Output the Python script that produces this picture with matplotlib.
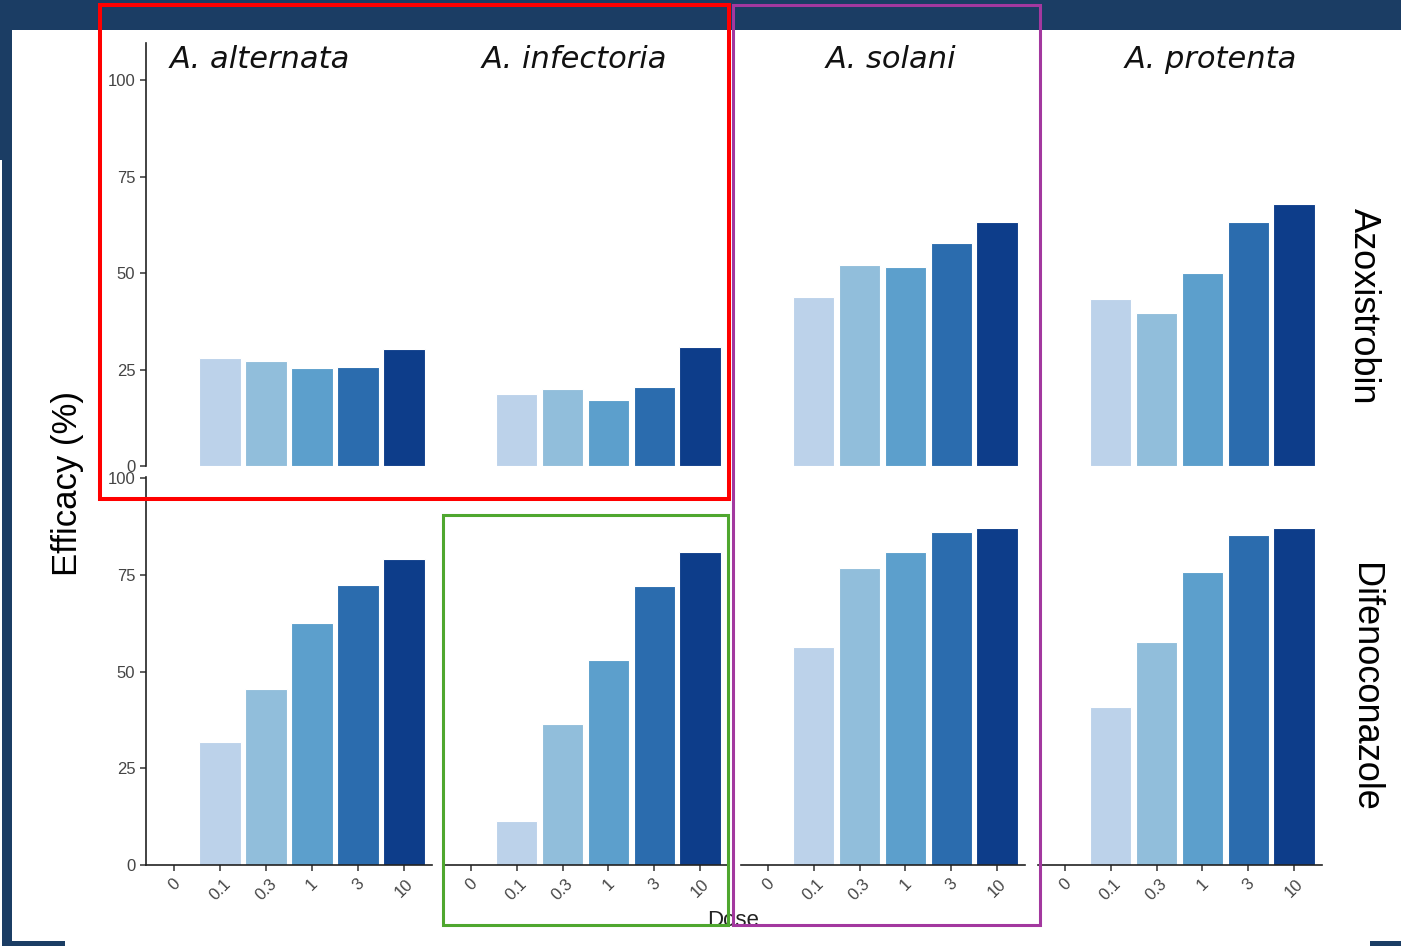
import matplotlib.pyplot as plt
from matplotlib.patches import Rectangle

# Data (efficacy %)
doses = ['0', '0.1', '0.3', '1', '3', '10']
species = ['A. alternata', 'A. infectoria', 'A. solani', 'A. protenta']
fungicides = ['Azoxistrobin', 'Difenoconazole']

azox_alternata = [0, 28.0, 27.2, 25.4, 25.6, 30.3]
azox_infectoria = [0, 18.7, 19.9, 17.1, 20.5, 30.8]
azox_solani = [0, 43.8, 52.1, 51.6, 57.8, 63.2]
azox_protenta = [0, 43.3, 39.6, 50.0, 63.2, 67.9]

difeno_alternata = [0, 31.8, 45.5, 62.5, 72.4, 79.1]
difeno_infectoria = [0, 11.4, 36.4, 53.0, 72.1, 80.9]
difeno_solani = [0, 56.3, 76.7, 80.9, 86.0, 87.1]
difeno_protenta = [0, 40.8, 57.6, 75.7, 85.3, 87.1]

values = [
    [azox_alternata, azox_infectoria, azox_solani, azox_protenta],
    [difeno_alternata, difeno_infectoria, difeno_solani, difeno_protenta],
]

bar_colors = ['#dbe8f5', '#bcd2ea', '#91bedb', '#5c9fcc', '#2b6cae', '#0d3d8a']
navy = '#1b3d64'

W, H = 1401, 946
fig = plt.figure(figsize=(W / 100, H / 100), dpi=100, facecolor='white')


def fx(x):
    return x / W


def fy(y):
    return 1 - y / H


def box(x0, y0, x1, y1):
    return [fx(x0), fy(y1), (x1 - x0) / W, (y1 - y0) / H]


def frame(x0, y0, x1, y1, color, lw, z=10, fill=False):
    r = Rectangle((fx(x0), fy(y1)), (x1 - x0) / W, (y1 - y0) / H,
                  transform=fig.transFigure, fill=fill, facecolor=color if fill else 'none',
                  edgecolor='none' if fill else color, linewidth=lw, zorder=z)
    fig.add_artist(r)


# slide background pieces
frame(0, 0, W, 30, navy, 0, z=-5, fill=True)
frame(0, 0, 12, 160, navy, 0, z=-5, fill=True)
frame(2, 0, 12, 946, navy, 0, z=-5, fill=True)
frame(2, 941, 65, 946, navy, 0, z=-5, fill=True)
frame(1370, 941, W, 946, navy, 0, z=-5, fill=True)

# panel geometry in pixels
cols_px = [(146.4, 431.6), (443.5, 727.5), (740.5, 1024.5), (1037.5, 1321.5)]
rows_px = [(43, 466, 109.6), (477, 865, 100.3)]

tick_font = dict(family='Liberation Sans', size=12, color='#444444')

for r, (top, bottom, ymax) in enumerate(rows_px):
    for c, (left, right) in enumerate(cols_px):
        ax = fig.add_axes(box(left, top, right, bottom))
        ax.set_facecolor('none')
        ax.bar(range(len(doses)), values[r][c], width=0.9, color=bar_colors,
               edgecolor='white', linewidth=0.8)
        ax.set_xlim(-0.6, 5.6)
        ax.set_ylim(0, ymax)
        for s in ['top', 'right']:
            ax.spines[s].set_visible(False)
        ax.spines['left'].set_visible(c == 0)
        ax.spines['bottom'].set_visible(r == 1)
        ax.spines['left'].set_linewidth(1.2)
        ax.spines['bottom'].set_linewidth(1.2)
        ax.spines['left'].set_color('#222222')
        ax.spines['bottom'].set_color('#222222')
        ax.tick_params(length=4, width=1.1, color='#333333', pad=4)
        if c == 0:
            ax.set_yticks([0, 25, 50, 75, 100])
            ax.set_yticklabels(['0', '25', '50', '75', '100'], fontdict=tick_font)
        else:
            ax.set_yticks([])
        if r == 1:
            ax.set_xticks(range(len(doses)))
            ax.set_xticklabels(doses, fontdict=tick_font, rotation=45,
                               ha='center', va='top')
        else:
            ax.set_xticks([])

# strip labels
title_x = [260, 574, 891, 1211]
for name, x in zip(species, title_x):
    fig.text(fx(x), fy(60), name, fontsize=22, style='italic', family='DejaVu Sans',
             ha='center', va='center', color='#111111')

fig.text(fx(1363), fy(306), fungicides[0], rotation=-90, fontsize=26,
         family='Liberation Sans', ha='center', va='center')
fig.text(fx(1365), fy(687), fungicides[1], rotation=-90, fontsize=26,
         family='Liberation Sans', ha='center', va='center')

fig.text(fx(67), fy(484), 'Efficacy (%)', rotation=90, fontsize=25,
         family='Liberation Sans', ha='center', va='center')
fig.text(fx(733), fy(920), 'Dose', fontsize=16, family='Liberation Sans',
         ha='center', va='center', color='#222222')

# highlight boxes
frame(100, 5.5, 729, 499, '#ff0000', 2.9)
frame(733, 5, 1040, 925, '#a3389f', 2.2)
frame(443, 515, 728, 925, '#4fa72f', 2.2)

fig.savefig('out.png', dpi=100, facecolor=fig.get_facecolor())
